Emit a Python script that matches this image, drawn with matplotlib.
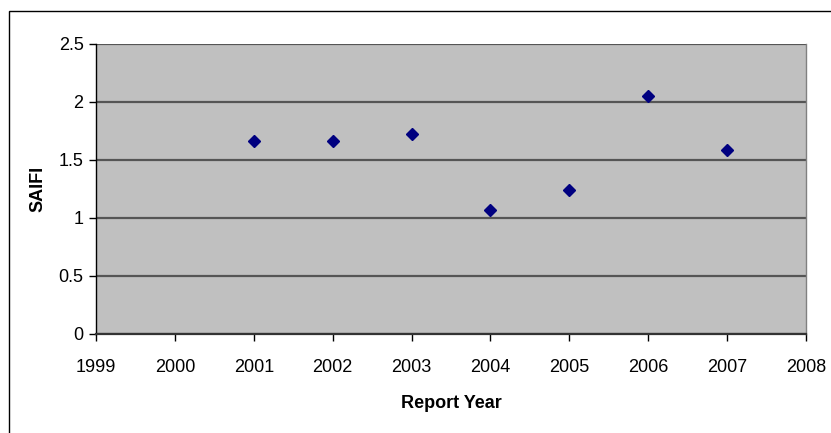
import matplotlib
matplotlib.use("Agg")
import matplotlib.pyplot as plt
from matplotlib.patches import Rectangle

# SAIFI by report year
years = [2001, 2002, 2003, 2004, 2005, 2006, 2007]
saifi = [1.66, 1.66, 1.72, 1.07, 1.24, 2.05, 1.58]

x_ticks = list(range(1999, 2009))
y_ticks = [0, 0.5, 1, 1.5, 2, 2.5]
y_tick_labels = ["0", "0.5", "1", "1.5", "2", "2.5"]

plt.rcParams["font.family"] = ["Liberation Sans", "DejaVu Sans"]

W, H = 831, 433
fig = plt.figure(figsize=(W / 100, H / 100), dpi=100)

# chart frame (extends beyond the right and bottom edges)
fig.patches.append(Rectangle((8.5 / W, -0.05), 1.2, 1 - 10.5 / H + 0.05,
                             transform=fig.transFigure, fill=False,
                             edgecolor="black", linewidth=1.0))

left, right = 96 / W, 806 / W
bottom, top = 1 - 334 / H, 1 - 43.5 / H
ax = fig.add_axes([left, bottom, right - left, top - bottom])
ax.set_facecolor("#C0C0C0")

ax.set_xlim(1999, 2008)
ax.set_ylim(0, 2.5)
ax.set_xticks(x_ticks)
ax.set_xticklabels([str(v) for v in x_ticks])
ax.set_yticks(y_ticks)
ax.set_yticklabels(y_tick_labels)

ax.grid(axis="y", color="#555555", linewidth=1.6)
ax.set_axisbelow(True)

ax.spines["top"].set_visible(False)
ax.spines["right"].set_color("#808080")
ax.spines["right"].set_linewidth(1.0)
ax.spines["left"].set_color("black")
ax.spines["bottom"].set_color("#333333")
ax.spines["left"].set_linewidth(1.0)
ax.spines["bottom"].set_linewidth(1.6)

ax.tick_params(axis="both", direction="out", length=5, width=1,
               labelsize=13, colors="black")
ax.tick_params(axis="x", pad=13)
ax.tick_params(axis="y", pad=4)

ax.plot(years, saifi, linestyle="none", marker="D", markersize=6.5,
        color="#000080", clip_on=False, zorder=3)

ax.set_xlabel("Report Year", fontsize=13, fontweight="bold", labelpad=14)
ax.set_ylabel("SAIFI", fontsize=13, fontweight="bold", labelpad=9)

fig.savefig("out.png", dpi=100, facecolor="white")
